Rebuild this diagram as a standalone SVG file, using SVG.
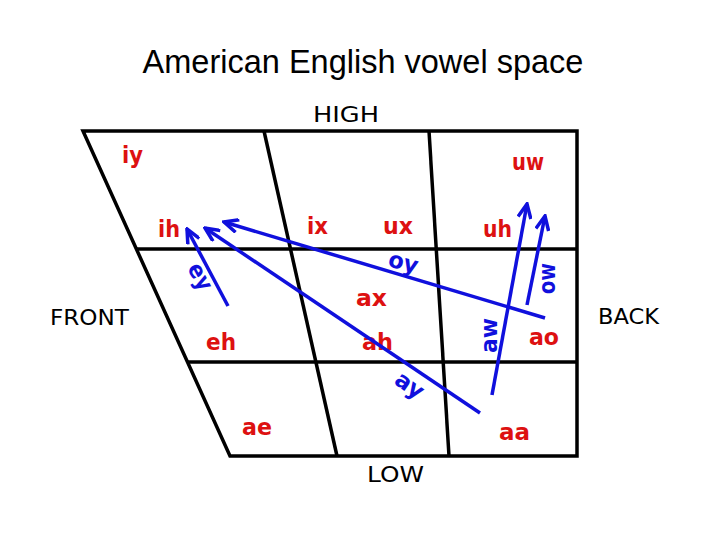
<svg xmlns="http://www.w3.org/2000/svg" width="720" height="540" viewBox="0 0 720 540">
<defs>
<style>
.frame{fill:none;stroke:#000;stroke-width:3.5;stroke-linejoin:miter}
.title{font-family:"Liberation Sans",Arial,sans-serif;font-size:32.5px;fill:#000}
.axis{font-family:"DejaVu Sans",sans-serif;font-size:21px;fill:#000}
.v{font-family:"DejaVu Sans",sans-serif;font-size:23px;font-weight:bold;fill:#dd1111}
.d{font-family:"DejaVu Sans",sans-serif;font-size:23px;font-weight:bold;fill:#1010dd}
.arr{fill:none;stroke:#1010dd;stroke-width:3.5;marker-end:url(#head)}
</style>
<marker id="head" viewBox="0 0 17 15" refX="15" refY="7.5" markerWidth="17" markerHeight="15" markerUnits="userSpaceOnUse" orient="auto">
<path d="M1,1 L15,7.5 L1,14" fill="none" stroke="#1010dd" stroke-width="3.5"/>
</marker>
</defs>
<rect width="720" height="540" fill="#fff"/>
<text class="title" x="363" y="73" text-anchor="middle">American English vowel space</text>
<g id="frame">
<polygon class="frame" points="83,131 577,131 577,456 230,456"/>
<line class="frame" x1="137" y1="249" x2="577" y2="249"/>
<line class="frame" x1="187.5" y1="362" x2="577" y2="362"/>
<line class="frame" x1="264" y1="131" x2="337" y2="456"/>
<line class="frame" x1="429" y1="131" x2="449" y2="456"/>
</g>
<g id="axis-labels">
<text class="axis" x="313" y="122" textLength="66" lengthAdjust="spacingAndGlyphs" font-size="20">HIGH</text>
<text class="axis" x="50" y="325" textLength="79" lengthAdjust="spacingAndGlyphs">FRONT</text>
<text class="axis" x="598" y="324" textLength="61" lengthAdjust="spacingAndGlyphs">BACK</text>
<text class="axis" x="367" y="482" textLength="57" lengthAdjust="spacingAndGlyphs">LOW</text>
</g>
<g id="iy"><text class="v" x="122" y="163" textLength="21" lengthAdjust="spacingAndGlyphs">iy</text></g>
<g id="uw"><text class="v" x="512" y="170" textLength="32" lengthAdjust="spacingAndGlyphs">uw</text></g>
<g id="ih"><text class="v" x="158" y="237" textLength="22" lengthAdjust="spacingAndGlyphs">ih</text></g>
<g id="ix"><text class="v" x="307" y="234" textLength="21" lengthAdjust="spacingAndGlyphs">ix</text></g>
<g id="ux"><text class="v" x="383" y="234" textLength="30" lengthAdjust="spacingAndGlyphs">ux</text></g>
<g id="uh"><text class="v" x="483" y="237" textLength="29" lengthAdjust="spacingAndGlyphs">uh</text></g>
<g id="ax"><text class="v" x="356" y="306" textLength="31" lengthAdjust="spacingAndGlyphs">ax</text></g>
<g id="eh"><text class="v" x="206" y="350" textLength="30" lengthAdjust="spacingAndGlyphs">eh</text></g>
<g id="ah"><text class="v" x="362" y="350" textLength="31" lengthAdjust="spacingAndGlyphs">ah</text></g>
<g id="ao"><text class="v" x="529" y="345" textLength="30" lengthAdjust="spacingAndGlyphs">ao</text></g>
<g id="ae"><text class="v" x="242" y="435" textLength="30" lengthAdjust="spacingAndGlyphs">ae</text></g>
<g id="aa"><text class="v" x="499" y="440" textLength="31" lengthAdjust="spacingAndGlyphs">aa</text></g>
<g id="connectors">
<line class="arr" x1="228" y1="306" x2="187" y2="229"/>
<line class="arr" x1="480" y1="413" x2="205" y2="228"/>
<line class="arr" x1="545" y1="318" x2="224" y2="222"/>
<line class="arr" x1="492" y1="395" x2="527" y2="204"/>
<line class="arr" x1="527" y1="305" x2="545" y2="216"/>
</g>
<g id="diphthong-labels">
<text class="d" transform="translate(187,268) rotate(62)" textLength="28" lengthAdjust="spacingAndGlyphs">ey</text>
<text class="d" transform="translate(387,266) rotate(15)" textLength="30" lengthAdjust="spacingAndGlyphs">oy</text>
<text class="d" transform="translate(393,383) rotate(35)" textLength="30" lengthAdjust="spacingAndGlyphs">ay</text>
<text class="d" transform="translate(555,294) rotate(-90)" textLength="31" lengthAdjust="spacingAndGlyphs">ow</text>
<text class="d" transform="translate(497,353) rotate(-90)" textLength="35" lengthAdjust="spacingAndGlyphs">aw</text>
</g>
</svg>
